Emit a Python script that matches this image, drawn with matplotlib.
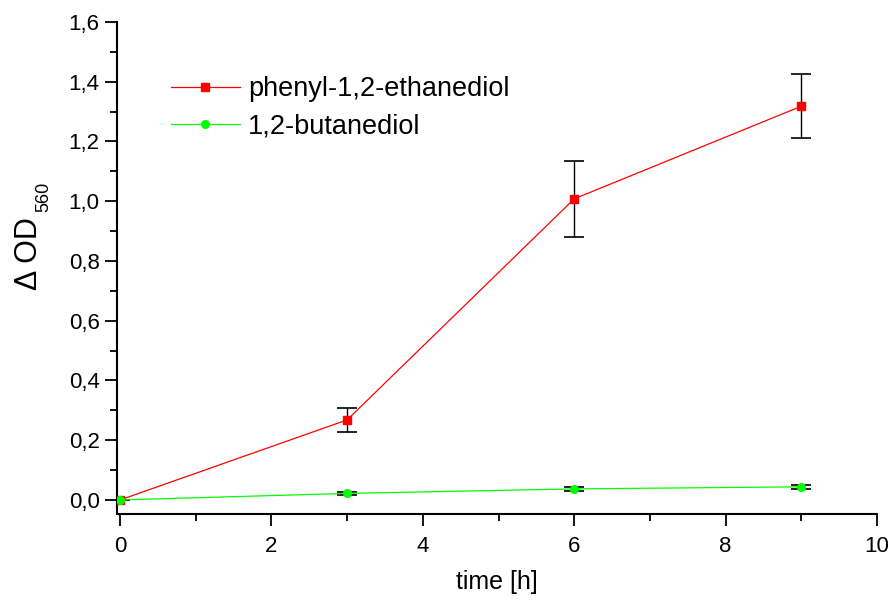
import numpy as np
import matplotlib.pyplot as plt
from matplotlib.ticker import MultipleLocator, FuncFormatter

plt.rcParams['font.family'] = ['Liberation Sans', 'DejaVu Sans']

# Daten
time = [0, 3, 6, 9]
phenyl = [0.0, 0.268, 1.008, 1.318]
phenyl_err = [0.0, 0.040, 0.128, 0.107]
butan = [0.0, 0.022, 0.037, 0.044]
butan_err = [0.0, 0.005, 0.006, 0.007]

W, H = 893, 601
fig = plt.figure(figsize=(W / 100, H / 100), dpi=100)
ax = fig.add_axes([117 / W, 1 - 514 / H, (877 - 117) / W, (514 - 22) / H])

ax.errorbar(time, phenyl, yerr=phenyl_err, fmt='none', ecolor='black',
            elinewidth=1, capsize=7.5, capthick=1.2, zorder=2)
ax.errorbar(time, butan, yerr=butan_err, fmt='none', ecolor='black',
            elinewidth=1, capsize=7.5, capthick=1.2, zorder=2)
ax.plot(time, phenyl, color='#ff0000', lw=0.9, marker='s', ms=5.5,
        label='phenyl-1,2-ethanediol', zorder=3)
ax.plot(time, butan, color='#00ff00', lw=0.9, marker='o', ms=5.5,
        label='1,2-butanediol', zorder=3)

ax.set_xlim(-0.04, 10)
ax.set_ylim(-0.047, 1.6)
ax.xaxis.set_major_locator(MultipleLocator(2))
ax.xaxis.set_minor_locator(MultipleLocator(1))
ax.yaxis.set_major_locator(MultipleLocator(0.2))
ax.yaxis.set_minor_locator(MultipleLocator(0.1))
ax.yaxis.set_major_formatter(FuncFormatter(lambda v, p: f"{v:.1f}".replace('.', ',')))

for s in ['top', 'right']:
    ax.spines[s].set_visible(False)
for s in ['left', 'bottom']:
    ax.spines[s].set_linewidth(1.5)
ax.tick_params(which='major', length=8.5, width=1.3, labelsize=16, direction='out', pad=4)
ax.tick_params(which='minor', length=5, width=1.3, direction='out')
ax.tick_params(axis='x', which='major', pad=7)

ax.set_xlabel("time [h]", fontsize=18, labelpad=10)

# y-Achsenbeschriftung mit tiefgestelltem Index (Origin-Stil)
fig.text(37 / W, 1 - 290 / H, "Δ OD", fontsize=22, rotation=90,
         rotation_mode='anchor', ha='left', va='baseline')
fig.text(48 / W, 1 - 212 / H, "560", fontsize=13, rotation=90,
         rotation_mode='anchor', ha='left', va='baseline')

ax.legend(loc='center left', bbox_to_anchor=(0.071, 0.826), frameon=False,
          borderaxespad=0, borderpad=0,
          fontsize=19.5, handlelength=2.55, handletextpad=0.3, labelspacing=0.4)

fig.savefig("out.png", dpi=100)
